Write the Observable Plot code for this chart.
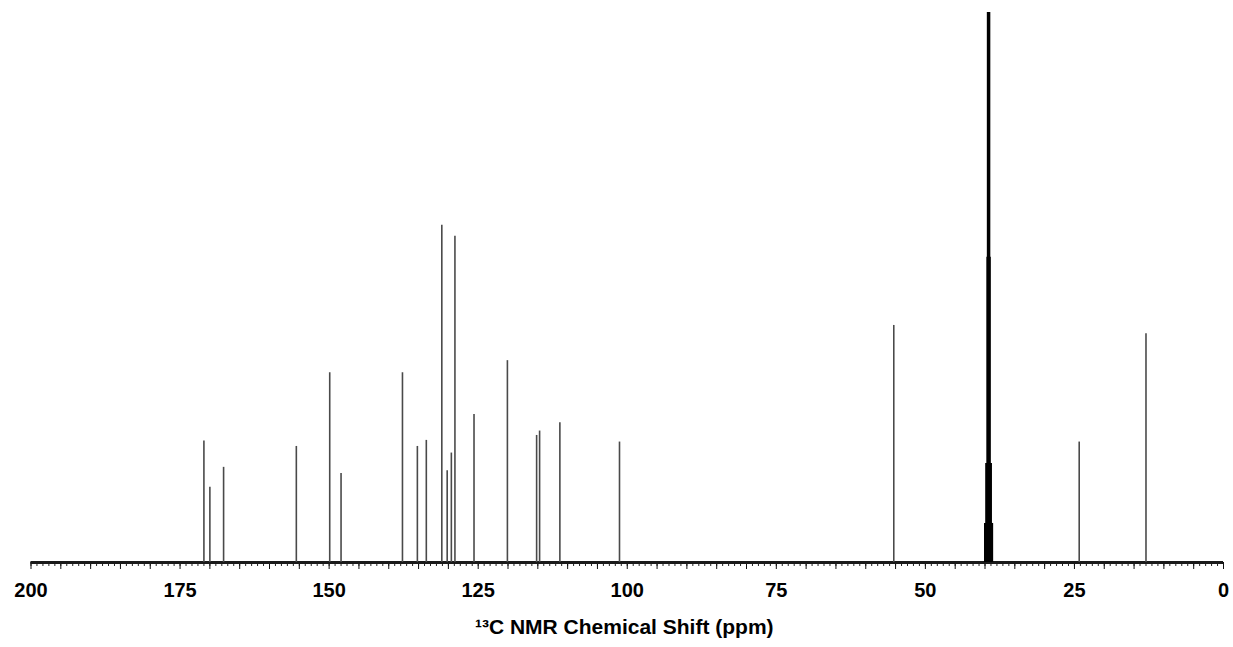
<!DOCTYPE html>
<html>
<head>
<meta charset="utf-8">
<script src="https://cdn.jsdelivr.net/npm/d3@7"></script>
<script src="https://cdn.jsdelivr.net/npm/@observablehq/plot@0.6"></script>
<style>
  body { margin: 0; background: #fff; }
  svg { display: block; }
</style>
</head>
<body>
<div id="chart"></div>
<script>
// 13C NMR spectrum: peak positions (ppm) and relative intensities
const shifts = [171.0, 170.0, 167.7, 155.5, 149.9, 148.0, 137.7, 135.2, 133.7, 131.1, 130.2,
                129.5, 128.9, 125.7, 120.1, 115.2, 114.7, 111.3, 101.3, 55.3, 24.2, 13.0];
const intensities = [22.1, 13.7, 17.3, 21.1, 34.5, 16.2, 34.5, 21.1, 22.2, 61.3, 16.7,
                     19.9, 59.3, 26.9, 36.7, 23.1, 23.9, 25.4, 21.9, 43.1, 21.9, 41.6];

// DMSO-d6 solvent septet
const solventShifts = [40.0, 39.8, 39.6, 39.4, 39.2, 39.0, 38.8];
const solventIntensities = [7.1, 18.0, 55.5, 100, 55.5, 18.0, 7.1];

// axis ticks
const tickLabels = [200, 175, 150, 125, 100, 75, 50, 25, 0];
const majorTicks = d3.range(0, 201, 5);
const minorTicks = d3.range(0, 201, 1);

const axisTitle = "¹³C NMR Chemical Shift (ppm)";

const peaks = shifts.map((s, i) => ({shift: s, intensity: intensities[i]}));
const solvent = solventShifts.map((s, i) => ({shift: s, intensity: solventIntensities[i]}));
const solventCenter = solvent.filter(d => d.intensity === d3.max(solventIntensities));

const chart = Plot.plot({
  width: 1233,
  height: 647,
  marginLeft: 30.5,
  marginRight: 10,
  marginTop: 12,
  marginBottom: 85,
  style: {fontFamily: "'Liberation Sans', Arial, sans-serif", background: "#fff", color: "#000"},
  x: {domain: [200, 0]},
  y: {domain: [0, 100], axis: null},
  marks: [
    Plot.axisX({ticks: minorTicks, tickSize: 4, tickFormat: () => "", label: null, stroke: "#222"}),
    Plot.axisX({ticks: majorTicks, tickSize: 7, tickFormat: () => "", label: null, stroke: "#111"}),
    Plot.axisX({ticks: tickLabels, tickSize: 0, tickPadding: 20.5, tickFormat: d => String(d),
                fontSize: 20, fontWeight: "bold", label: null}),
    Plot.ruleY([0], {stroke: "#1a1a1a", strokeWidth: 2.8}),
    Plot.ruleX(peaks, {x: "shift", y1: 0, y2: "intensity", stroke: "#4a4a4a", strokeWidth: 1.6}),
    Plot.ruleX(solvent, {x: "shift", y1: 0, y2: "intensity", stroke: "#000", strokeWidth: 2}),
    Plot.ruleX(solventCenter, {x: "shift", y1: 0, y2: "intensity", stroke: "#000", strokeWidth: 3.5}),
    Plot.text([axisTitle], {frameAnchor: "bottom", dy: 71, dx: -3, fontSize: 21, fontWeight: "bold", fill: "#000"})
  ]
});

document.getElementById("chart").appendChild(chart);
</script>
</body>
</html>
